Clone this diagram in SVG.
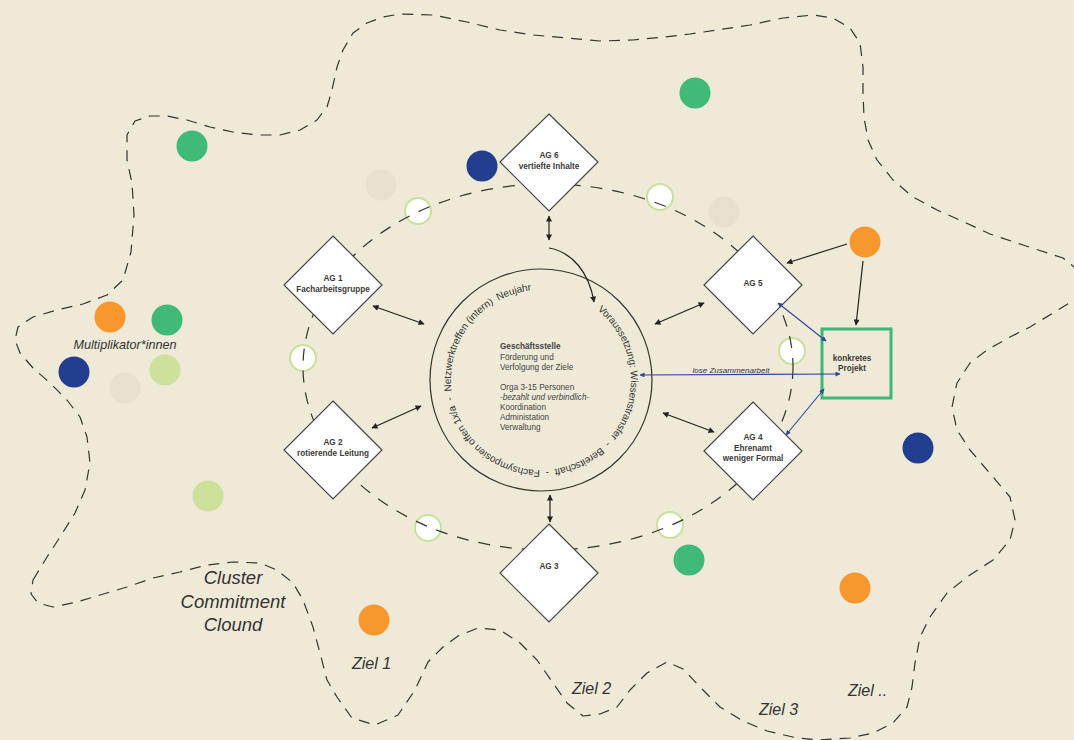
<svg xmlns="http://www.w3.org/2000/svg" width="1074" height="740" viewBox="0 0 1074 740">
  <style>
    .cloud { fill: none; stroke: #333; stroke-width: 1.2; stroke-dasharray: 11 8; stroke-linejoin: round; }
    .orbit { fill: none; stroke: #333; stroke-width: 1.2; stroke-dasharray: 12 10; }
    .ag { fill: #fff; stroke: #444; stroke-width: 1.2; }
    .agt { font-family: "Liberation Sans", Arial, sans-serif; font-size: 8.2px; font-weight: bold; fill: #3a3a3a; text-anchor: middle; }
    .slot { fill: #fff; stroke: #c9e09c; stroke-width: 2; }
    .dot-g { fill: #41b977; }
    .dot-n { fill: #243e8f; }
    .dot-o { fill: #f7972e; }
    .dot-l { fill: #cde19b; }
    .dot-p { fill: #e7e2cf; }
    .blk { stroke: #222; stroke-width: 1.2; fill: none; }
    .blu { stroke: #2b45a0; stroke-width: 1.1; fill: none; }
    .it { font-family: "Liberation Sans", Arial, sans-serif; font-style: italic; fill: #333; }
    .body { font-family: "Liberation Sans", Arial, sans-serif; font-size: 8.2px; fill: #444; }
  </style>
  <defs>
    <marker id="ah" viewBox="0 0 10 10" refX="9" refY="5" markerWidth="9" markerHeight="6" markerUnits="userSpaceOnUse" orient="auto-start-reverse">
      <path d="M0,0 L10,5 L0,10 z" fill="#222"/>
    </marker>
    <marker id="ahb" viewBox="0 0 10 10" refX="9" refY="5" markerWidth="8" markerHeight="5" markerUnits="userSpaceOnUse" orient="auto-start-reverse">
      <path d="M0,0 L10,5 L0,10 z" fill="#2b45a0"/>
    </marker>
    <path id="ringPath" d="M597.6,310.1 A90,90 0 1 1 533.2,290.3"/>
  </defs>

  <rect width="1074" height="740" fill="#eeead7"/>

  <!-- cluster boundary -->
  <path class="cloud" d="M33,580 L47,557 L60,537 L75,513 L85,490 L90,463 L87,437 L80,417 L67,400 L50,383 L33,368 L20,353 L15,340 L18,327 L33,317 L57,310 L83,304 L107,295 L123,280 L131,252 L134,215 L132,183 L127,160 L127,135 L135,121 L150,116 L167,116 L187,120 L210,127 L233,132 L257,135 L280,135 L300,130 L317,120 L327,107 L332,90 L337,67 L343,50 L353,33 L367,23 L383,17 L400,14 L433,15 L467,22 L500,30 L533,35 L567,38 L600,41 L633,40 L665,37 L690,34 L717,30 L750,25 L783,18 L813,15 L833,18 L850,28 L860,43 L863,67 L863,93 L864,117 L868,140 L877,160 L893,180 L913,197 L937,210 L962,221 L990,234 L1023,245 L1063,258 L1090,280 L1074,300 L1053,313 L1030,327 L1010,337 L987,350 L970,363 L957,383 L952,407 L957,430 L970,450 L993,477 L1010,497 L1015,520 L1010,540 L993,560 L967,577 L947,593 L930,617 L920,637 L915,663 L912,687 L907,707 L893,723 L873,733 L850,738 L820,740 L797,738 L767,731 L743,721 L720,707 L700,687 L683,669 L667,662 L647,673 L630,690 L617,707 L600,714 L583,716 L567,703 L553,683 L537,660 L520,643 L500,630 L478,628 L458,636 L443,647 L428,662 L415,690 L398,715 L375,725 L352,718 L337,697 L327,680 L320,653 L313,627 L303,600 L293,583 L277,570 L260,563 L233,562 L207,565 L180,572 L153,578 L127,587 L100,595 L77,602 L53,607 L38,603 L31,594 Z"/>

  <!-- members -->
  <g id="members">
    <circle class="dot-g" cx="192" cy="146" r="15.5"/>
    <circle class="dot-g" cx="695" cy="93" r="15.5"/>
    <circle class="dot-g" cx="167" cy="320" r="15.5"/>
    <circle class="dot-g" cx="689" cy="560" r="15.5"/>
    <circle class="dot-n" cx="482" cy="166" r="15.5"/>
    <circle class="dot-n" cx="74" cy="372" r="15.5"/>
    <circle class="dot-n" cx="918" cy="448" r="15.5"/>
    <circle class="dot-o" cx="110" cy="317" r="15.5"/>
    <circle class="dot-o" cx="865" cy="242" r="15.5"/>
    <circle class="dot-o" cx="374" cy="620" r="15.5"/>
    <circle class="dot-o" cx="855" cy="588" r="15.5"/>
    <circle class="dot-l" cx="165" cy="370" r="15.5"/>
    <circle class="dot-l" cx="208" cy="496" r="15.5"/>
    <circle class="dot-p" cx="381" cy="185" r="15.5"/>
    <circle class="dot-p" cx="724" cy="212" r="15.5"/>
    <circle class="dot-p" cx="125" cy="388" r="15.5"/>
  </g>

  <!-- open slots on the working-group ring -->
  <g id="slots">
    <circle class="slot" cx="418" cy="211" r="13"/>
    <circle class="slot" cx="660" cy="197" r="13"/>
    <circle class="slot" cx="303" cy="358" r="13"/>
    <circle class="slot" cx="792" cy="351" r="13"/>
    <circle class="slot" cx="428" cy="528" r="13"/>
    <circle class="slot" cx="670" cy="525" r="13"/>
  </g>

  <ellipse class="orbit" cx="548" cy="367" rx="245" ry="183"/>

  <!-- central office -->
  <g id="geschaeftsstelle">
    <circle cx="541" cy="380" r="111" fill="none" stroke="#333" stroke-width="1.2"/>
    <text font-family="Liberation Sans, Arial, sans-serif" font-size="10" fill="#333" xml:space="preserve"><textPath href="#ringPath" textLength="494" lengthAdjust="spacing">Voraussetzung: Wissenstransfer  -  Bereitschaft  -  Fachsymposien offen 1x/a  -  Netzwerktreffen (intern)  Neujahr</textPath></text>
    <text class="body" x="500" y="349" font-weight="bold" fill="#333">Geschäftsstelle</text>
    <text class="body" x="500" y="359.5">Förderung und</text>
    <text class="body" x="500" y="369.5">Verfolgung der Ziele</text>
    <text class="body" x="500" y="389.5">Orga 3-15 Personen</text>
    <text class="body" x="500" y="399.5" font-style="italic">-bezahlt und verbindlich-</text>
    <text class="body" x="500" y="409.5">Koordination</text>
    <text class="body" x="500" y="419.5">Administation</text>
    <text class="body" x="500" y="429.5">Verwaltung</text>
  </g>

  <!-- working groups -->
  <g id="ag6">
    <path class="ag" d="M549,114 L598,162 L549,211 L500,162 Z"/>
    <text class="agt" x="549" y="158">AG 6</text>
    <text class="agt" x="549" y="169">vertiefte Inhalte</text>
  </g>
  <g id="ag1">
    <path class="ag" d="M333,236 L382,285 L333,334 L284,285 Z"/>
    <text class="agt" x="333" y="281">AG 1</text>
    <text class="agt" x="333" y="291.5">Facharbeitsgruppe</text>
  </g>
  <g id="ag2">
    <path class="ag" d="M333,401 L382,450 L333,499 L284,450 Z"/>
    <text class="agt" x="333" y="444.5">AG 2</text>
    <text class="agt" x="333" y="455.5">rotierende Leitung</text>
  </g>
  <g id="ag3">
    <path class="ag" d="M549,524 L598,573 L549,622 L500,573 Z"/>
    <text class="agt" x="549" y="569">AG 3</text>
  </g>
  <g id="ag5">
    <path class="ag" d="M753,236 L802,285 L753,334 L704,285 Z"/>
    <text class="agt" x="753" y="285.5">AG 5</text>
  </g>
  <g id="ag4">
    <path class="ag" d="M753,402 L802,451 L753,500 L704,451 Z"/>
    <text class="agt" x="753" y="440">AG 4</text>
    <text class="agt" x="753" y="450.5">Ehrenamt</text>
    <text class="agt" x="753" y="461">weniger Formal</text>
  </g>

  <!-- project -->
  <g id="projekt">
    <rect x="822" y="329" width="69" height="69" fill="none" stroke="#3cb878" stroke-width="3"/>
    <text class="agt" x="852" y="361" font-size="8">konkretes</text>
    <text class="agt" x="852" y="371" font-size="8">Projekt</text>
  </g>

  <!-- connectors -->
  <g id="connectors">
    <line class="blk" x1="549" y1="216" x2="549" y2="240" marker-start="url(#ah)" marker-end="url(#ah)"/>
    <line class="blk" x1="373" y1="306" x2="424" y2="324" marker-start="url(#ah)" marker-end="url(#ah)"/>
    <line class="blk" x1="372" y1="428" x2="421" y2="406" marker-start="url(#ah)" marker-end="url(#ah)"/>
    <line class="blk" x1="550" y1="495" x2="550" y2="522" marker-start="url(#ah)" marker-end="url(#ah)"/>
    <line class="blk" x1="655" y1="324" x2="704" y2="303" marker-start="url(#ah)" marker-end="url(#ah)"/>
    <line class="blk" x1="663" y1="413" x2="714" y2="432" marker-start="url(#ah)" marker-end="url(#ah)"/>
    <path class="blk" d="M549,248 C572,252 589,272 594,302" marker-end="url(#ah)"/>
    <line class="blk" x1="847" y1="244" x2="787" y2="263" marker-end="url(#ah)"/>
    <line class="blk" x1="863" y1="261" x2="856" y2="325" marker-end="url(#ah)"/>
    <line class="blu" x1="640" y1="375" x2="840" y2="374" marker-start="url(#ahb)" marker-end="url(#ahb)"/>
    <line class="blu" x1="778" y1="303" x2="826" y2="341" marker-start="url(#ahb)" marker-end="url(#ahb)"/>
    <line class="blu" x1="786" y1="435" x2="824" y2="389" marker-start="url(#ahb)" marker-end="url(#ahb)"/>
    <text class="it" x="731" y="373" font-size="8" text-anchor="middle">lose Zusammenarbeit</text>
  </g>

  <!-- labels -->
  <text class="it" x="125" y="349" font-size="12.6" text-anchor="middle">Multiplikator*innen</text>
  <text class="it" x="233" y="584" font-size="18.5" text-anchor="middle">Cluster</text>
  <text class="it" x="233" y="608" font-size="18.5" text-anchor="middle">Commitment</text>
  <text class="it" x="233" y="631" font-size="18.5" text-anchor="middle">Clound</text>
  <text class="it" x="352" y="669" font-size="16">Ziel 1</text>
  <text class="it" x="572" y="694" font-size="16">Ziel 2</text>
  <text class="it" x="759" y="715" font-size="16">Ziel 3</text>
  <text class="it" x="848" y="696" font-size="16">Ziel ..</text>
</svg>
